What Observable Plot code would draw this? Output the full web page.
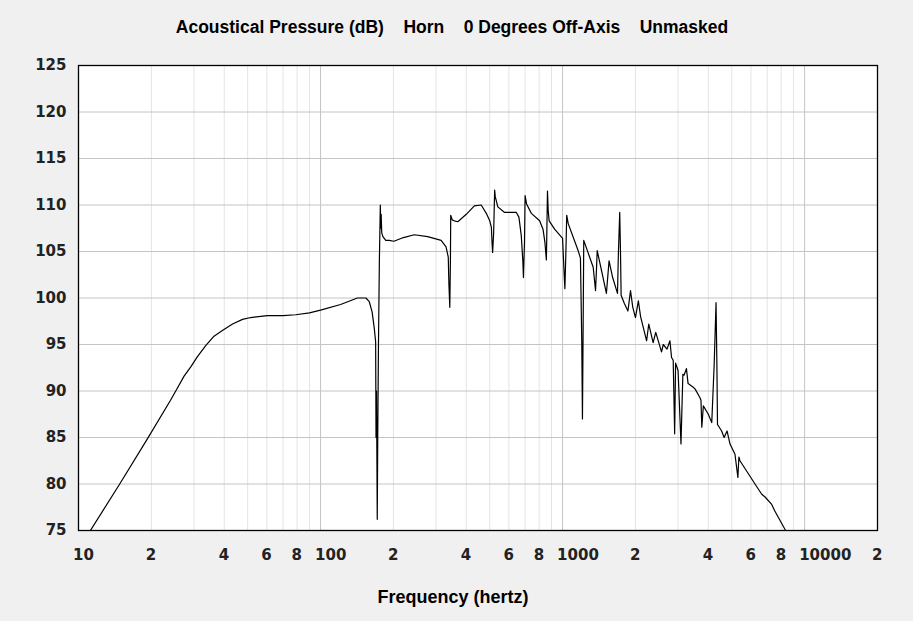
<!DOCTYPE html>
<html>
<head>
<meta charset="utf-8">
<script src="https://cdn.jsdelivr.net/npm/d3@7"></script>
<script src="https://cdn.jsdelivr.net/npm/@observablehq/plot@0.6"></script>
<style>
  html, body { margin: 0; padding: 0; background: #f0f0f0; }
  g[aria-label="ticks"] text { letter-spacing: 1px; }
</style>
</head>
<body>
<div id="chart"></div>
<script>
const titleText = "Acoustical Pressure (dB)\u00a0\u00a0\u00a0\u00a0Horn\u00a0\u00a0\u00a0\u00a00 Degrees Off-Axis\u00a0\u00a0\u00a0\u00a0Unmasked";
const xLabelText = "Frequency (hertz)";

const freq = [10, 11.2, 14.8, 19.2, 24.0, 25.6, 27.3, 29.1, 31.0, 33.6, 36.3, 39.3, 43.3, 47.6, 51.5, 60.4, 70, 78.9, 90, 100, 121, 142, 154, 159, 163.3, 166.8, 168.9, 169.5, 170.3, 171.5, 172.3, 173.5, 175, 176.6, 177.3, 178, 179, 181, 186, 192, 201, 220, 244, 277, 315, 330, 337, 339, 342, 344, 345, 350, 357, 369, 400, 432, 461, 484, 500, 508, 511, 514, 519, 524, 527, 540, 576, 644, 660, 675, 685, 689, 696, 700, 710, 743, 804, 830, 845, 857, 862, 866, 872, 880, 927, 1000, 1012, 1022, 1032, 1040, 1055, 1159, 1185, 1200, 1208, 1216, 1223, 1250, 1338, 1368, 1380, 1390, 1450, 1517, 1556, 1610, 1686, 1700, 1722, 1735, 1745, 1800, 1862, 1908, 1950, 2000, 2056, 2100, 2224, 2270, 2366, 2426, 2563, 2606, 2700, 2776, 2820, 2864, 2904, 2930, 3000, 3084, 3140, 3175, 3248, 3300, 3467, 3530, 3690, 3730, 3760, 3815, 4000, 4133, 4230, 4305, 4340, 4365, 4540, 4650, 4780, 4918, 5154, 5300, 5350, 5405, 6236, 6650, 6862, 7310, 7530, 8300, 8500];
const spl  = [72.9, 75, 80, 84.8, 89.0, 90.3, 91.6, 92.6, 93.7, 94.9, 95.9, 96.5, 97.2, 97.7, 97.9, 98.1, 98.1, 98.2, 98.4, 98.7, 99.3, 100.0, 100.0, 99.6, 98.5, 96.7, 95.3, 85, 90, 76.2, 85, 95, 104, 110, 107.5, 109, 107, 106.6, 106.2, 106.2, 106.1, 106.5, 106.8, 106.6, 106.2, 105.5, 104.4, 101.6, 99.0, 104, 108.9, 108.4, 108.3, 108.2, 109.0, 109.9, 110.0, 109.1, 108.3, 107.6, 106, 104.9, 107, 111.6, 110.9, 109.8, 109.2, 109.2, 108.7, 106.7, 104, 102.2, 106, 111.0, 110.1, 109.1, 108.3, 107.4, 106.0, 104.1, 108, 111.5, 109.4, 108.3, 107.4, 106.4, 103.3, 101.0, 105, 108.9, 108.0, 105.1, 104.3, 95.4, 87.0, 97, 106.2, 105.5, 103.3, 100.8, 103, 105.1, 102.9, 100.5, 104.0, 102.2, 100.5, 104.7, 109.2, 104.8, 100.3, 99.4, 98.6, 100.8, 99, 97.9, 99.7, 98, 95.4, 97.2, 95.2, 96.3, 94.2, 95.0, 94.5, 95.4, 93.6, 93.3, 85.4, 93, 92.2, 84.3, 91.8, 91.7, 92.4, 90.8, 90.4, 90.2, 89.3, 89.0, 86.1, 88.4, 87.5, 86.6, 92.9, 99.5, 92.9, 86.4, 85.7, 85.0, 85.7, 84.3, 83.2, 80.7, 82.9, 82.5, 80.0, 78.9, 78.6, 77.8, 77.1, 75.1, 74.5];

const xTickValues = [10, 20, 40, 60, 80, 100, 200, 400, 600, 800, 1000, 2000, 4000, 6000, 8000, 10000, 20000];
const xTickLabels = ["10", "2", "4", "6", "8", "100", "2", "4", "6", "8", "1000", "2", "4", "6", "8", "10000", "2"];
const xGridMajor = [100, 1000, 10000];
const xGridMinor = [20, 30, 40, 50, 60, 70, 80, 90, 200, 300, 400, 500, 600, 700, 800, 900, 2000, 3000, 4000, 5000, 6000, 7000, 8000, 9000];
const yTicks = [75, 80, 85, 90, 95, 100, 105, 110, 115, 120, 125];

const data = freq.map((f, i) => ({f, db: spl[i]}));
const tickFont = "DejaVu Sans";
const labelFont = "Liberation Sans";

const chart = Plot.plot({
  width: 913,
  height: 621,
  marginLeft: 78,
  marginRight: 36,
  marginTop: 65,
  marginBottom: 91,
  style: {background: "#f0f0f0", color: "#111", overflow: "visible"},
  x: {type: "log", domain: [10, 20000], axis: null},
  y: {domain: [75, 125], axis: null},
  marks: [
    Plot.frame({fill: "white", stroke: null}),
    Plot.ruleX(xGridMinor, {stroke: "#e4e4e4", strokeWidth: 1}),
    Plot.ruleX(xGridMajor, {stroke: "#c4c4c4", strokeWidth: 1}),
    Plot.ruleY(yTicks.filter(d => d > 75 && d < 125), {stroke: "#c4c4c4", strokeWidth: 1}),
    Plot.line(data, {x: "f", y: "db", stroke: "#000", strokeWidth: 1.2, clip: true}),
    Plot.frame({stroke: "#000", strokeWidth: 1.3}),
    Plot.text(yTicks, {ariaLabel: "ticks", y: d => d, frameAnchor: "left", lineAnchor: "middle", dx: -12, textAnchor: "end", text: d => String(d), fontFamily: tickFont, fontWeight: "bold", fontSize: 15, fill: "#222"}),
    Plot.text(xTickValues, {ariaLabel: "ticks", x: d => d, frameAnchor: "bottom", lineAnchor: "middle", dy: 25, dx: -5.5, textAnchor: "start", text: (d, i) => xTickLabels[i], fontFamily: tickFont, fontWeight: "bold", fontSize: 15, fill: "#222"}),
    Plot.text([titleText], {frameAnchor: "top", lineAnchor: "middle", dy: -38, dx: -26, text: d => d, fontFamily: labelFont, fontWeight: "bold", fontSize: 17.5, fill: "#000"}),
    Plot.text([xLabelText], {frameAnchor: "bottom", lineAnchor: "middle", dy: 67, dx: -25, text: d => d, fontFamily: labelFont, fontWeight: "bold", fontSize: 18, fill: "#000"})
  ]
});
document.getElementById("chart").appendChild(chart);
</script>
</body>
</html>
